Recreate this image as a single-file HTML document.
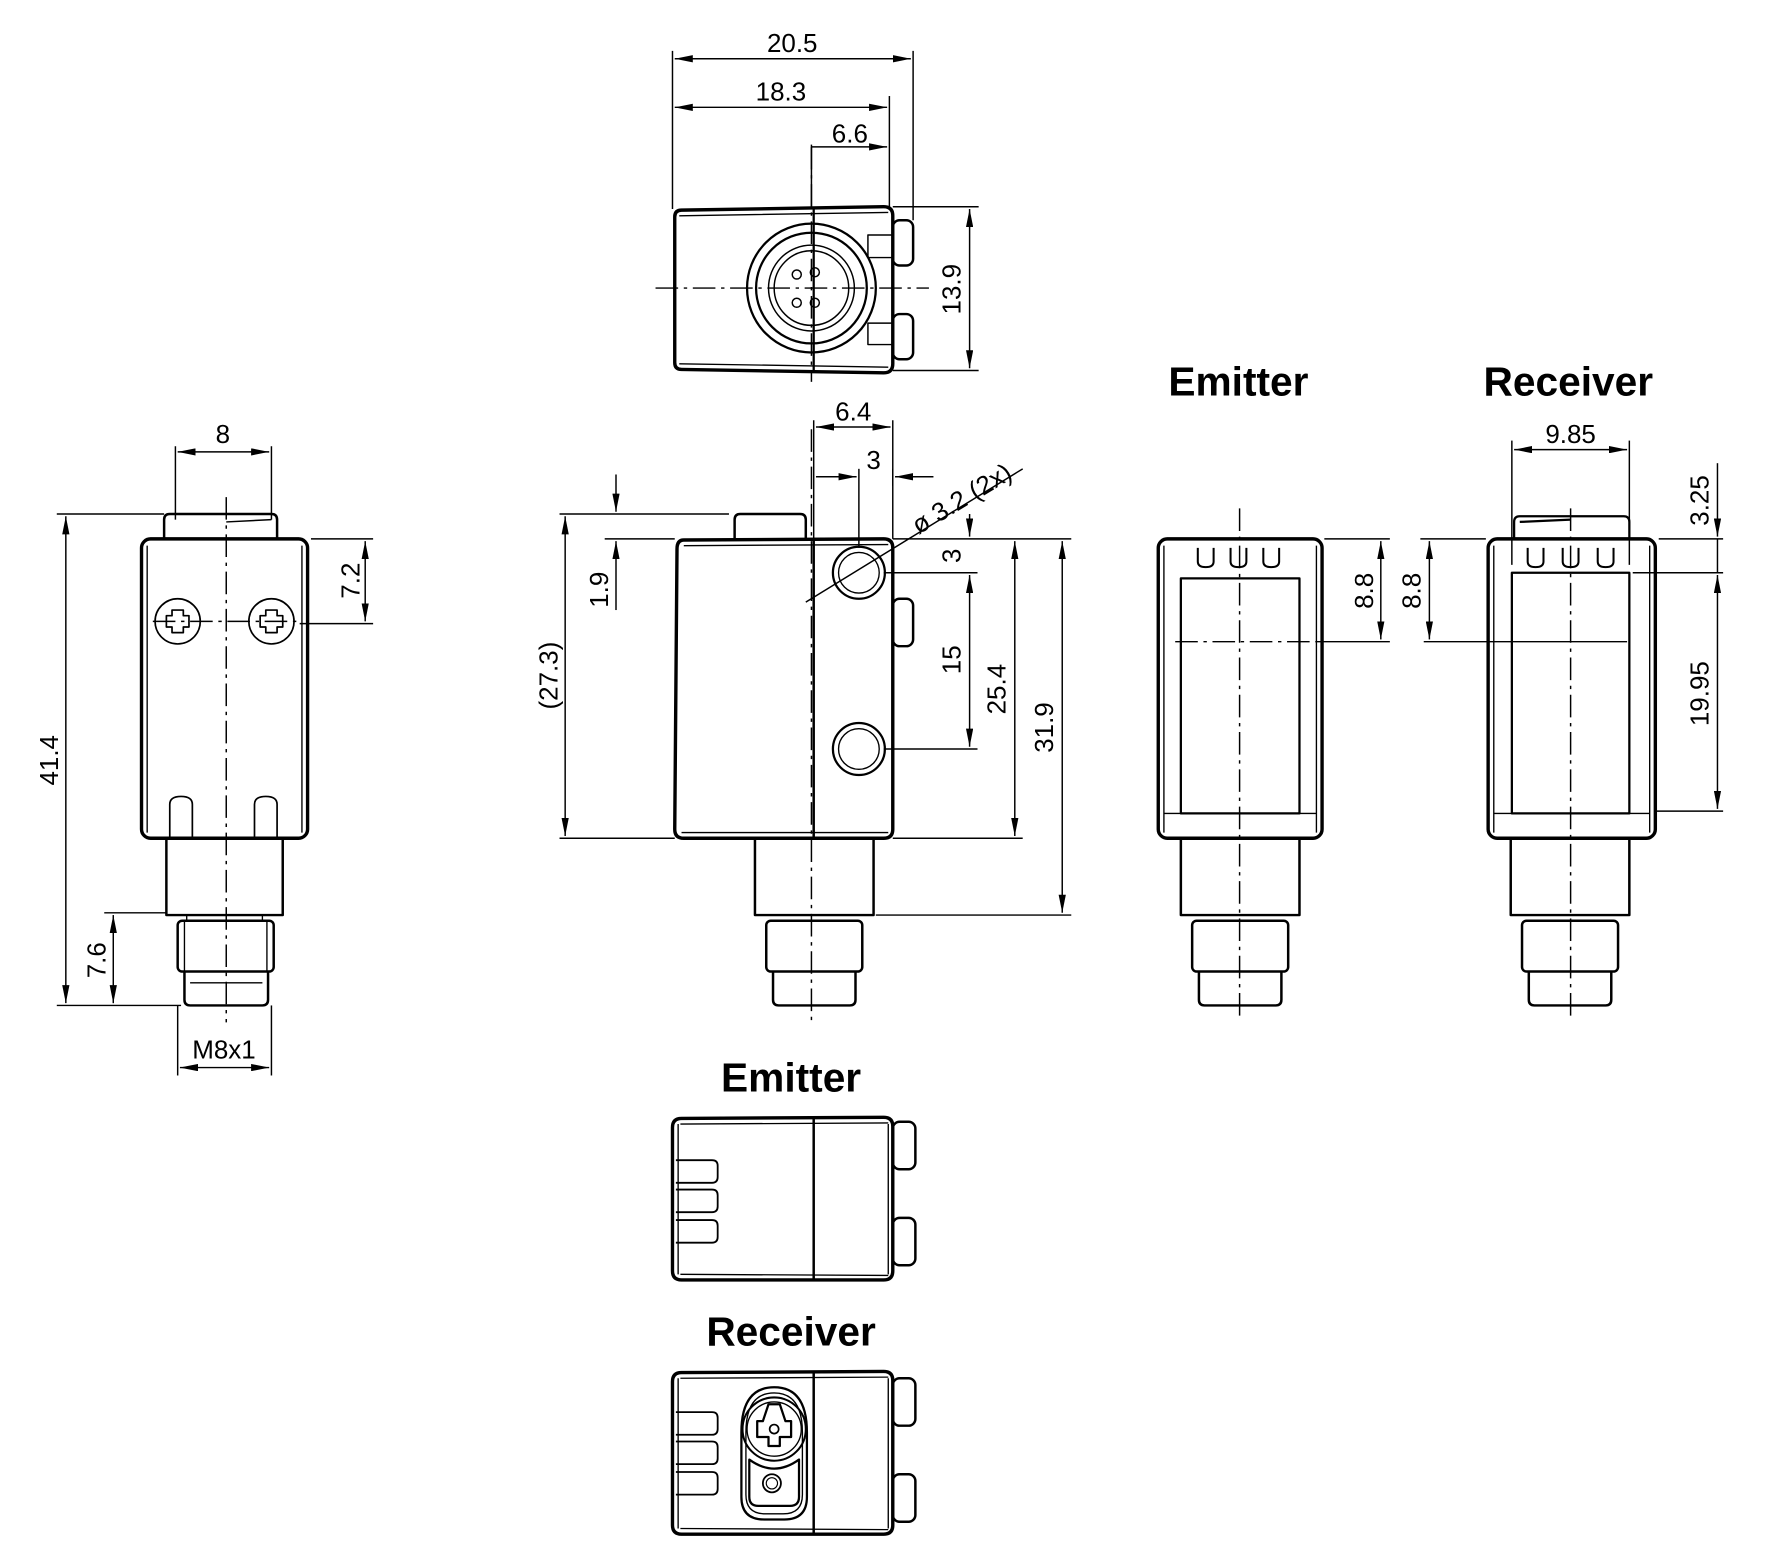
<!DOCTYPE html>
<html><head><meta charset="utf-8"><style>
html,body{margin:0;padding:0;background:#fff;}
svg{display:block}
text{font-family:"Liberation Sans",Arial,sans-serif;fill:#000}
</style></head><body>
<svg width="1772" height="1559" viewBox="0 0 1568 1380" xmlns="http://www.w3.org/2000/svg">
<defs>
<marker id="a" viewBox="0 0 20 8" refX="20" refY="4" markerWidth="16" markerHeight="6.4" markerUnits="userSpaceOnUse" orient="auto-start-reverse"><path d="M0,0 L20,4 L0,8 z" fill="#000"/></marker>
</defs>
<g fill="none" stroke="#000" stroke-linejoin="round">

<!-- ===== TOP VIEW ===== -->
<g stroke-width="1.3">
<line x1="595" y1="45" x2="595" y2="185"/><line x1="808" y1="45" x2="808" y2="195"/><line x1="787" y1="85" x2="787" y2="185"/>
<line x1="718" y1="128" x2="718" y2="185"/>
<line x1="597" y1="52" x2="806" y2="52" marker-start="url(#a)" marker-end="url(#a)"/>
<line x1="597" y1="95" x2="785" y2="95" marker-start="url(#a)" marker-end="url(#a)"/>
<line x1="718" y1="130" x2="785" y2="130" marker-end="url(#a)"/>
<line x1="790" y1="183" x2="866" y2="183"/><line x1="790" y1="328" x2="866" y2="328"/>
<line x1="858" y1="185" x2="858" y2="326" marker-start="url(#a)" marker-end="url(#a)"/>
<line x1="718" y1="130" x2="718" y2="338" stroke-dasharray="20,5,3,5"/>
<line x1="580" y1="255" x2="822" y2="255" stroke-dasharray="20,5,3,5"/>
</g>
<path d="M603,186 L782,183 Q790,183 790,191 L790,322 Q790,330 782,330 L603,327 Q597,327 597,321 L597,192 Q597,186 603,186 Z" stroke-width="3"/>
<path d="M601,191 L786,188 M601,322 L786,325" stroke-width="1.2"/>
<line x1="720" y1="185" x2="720" y2="328" stroke-width="2"/>
<g stroke-width="2"><circle cx="718" cy="255" r="57"/><circle cx="718" cy="255" r="49"/></g>
<g stroke-width="1.3"><circle cx="718" cy="255" r="38"/><circle cx="718" cy="255" r="33"/>
<circle cx="705" cy="243" r="4"/><circle cx="721" cy="241" r="4"/><circle cx="705" cy="268" r="4"/><circle cx="721" cy="268" r="4"/></g>
<g stroke-width="2.2">
<path d="M768,208 H790 V228 H768 Z M768,286 H790 V305 H768 Z" stroke-width="1.3"/>
<rect x="790" y="195" width="18" height="40" rx="6"/><rect x="790" y="278" width="18" height="40" rx="6"/>
</g>

<!-- ===== LEFT SIDE VIEW ===== -->
<g stroke-width="1.3">
<line x1="155" y1="395" x2="155" y2="460"/><line x1="240" y1="395" x2="240" y2="460"/>
<line x1="157" y1="400" x2="238" y2="400" marker-start="url(#a)" marker-end="url(#a)"/>
<line x1="50" y1="455" x2="145" y2="455"/><line x1="50" y1="890" x2="160" y2="890"/>
<line x1="58" y1="457" x2="58" y2="888" marker-start="url(#a)" marker-end="url(#a)"/>
<line x1="92" y1="808" x2="147" y2="808"/>
<line x1="100" y1="810" x2="100" y2="888" marker-start="url(#a)" marker-end="url(#a)"/>
<line x1="275" y1="477" x2="330" y2="477"/><line x1="265" y1="552" x2="330" y2="552"/>
<line x1="323" y1="479" x2="323" y2="550" marker-start="url(#a)" marker-end="url(#a)"/>
<line x1="157" y1="890" x2="157" y2="952"/><line x1="240" y1="890" x2="240" y2="952"/>
<line x1="159" y1="945" x2="238" y2="945" marker-start="url(#a)" marker-end="url(#a)"/>
<line x1="200" y1="440" x2="200" y2="905" stroke-dasharray="20,5,3,5"/>
<line x1="135" y1="550" x2="265" y2="550" stroke-dasharray="20,5,3,5"/>
</g>
<rect x="125" y="477" width="147" height="265" rx="8" stroke-width="3"/>
<path d="M130,483 V737 M267,483 V737" stroke-width="1.2"/>
<path d="M145,477 V460 Q145,455 150,455 H240 Q245,455 245,460 V477" stroke-width="2.2"/>
<path d="M200,462 L240,460" stroke-width="1.3"/>
<g stroke-width="1.5"><circle cx="157" cy="550" r="20"/><circle cx="240" cy="550" r="20"/>
<path d="M152,540 h10 v5 h5 v10 h-5 v5 h-10 v-5 h-5 v-10 h5 z M235,540 h10 v5 h5 v10 h-5 v5 h-10 v-5 h-5 v-10 h5 z"/>
<path d="M150,742 V712 Q150,705 160,705 Q170,705 170,712 V742 M225,742 V712 Q225,705 235,705 Q245,705 245,712 V742"/></g>
<g stroke-width="2.2">
<rect x="147" y="742" width="103" height="68"/>
<rect x="157" y="815" width="85" height="45" rx="4"/>
<path d="M163,860 V885 Q163,890 168,890 H232 Q237,890 237,885 V860"/>
</g>
<path d="M163,815 V860 M236,815 V860 M165,810 V815 M232,810 V815 M168,870 H232" stroke-width="1.2"/>

<!-- ===== CENTER SIDE VIEW ===== -->
<g stroke-width="1.3">
<line x1="720" y1="372" x2="720" y2="477"/><line x1="790" y1="372" x2="790" y2="477"/>
<line x1="722" y1="378" x2="788" y2="378" marker-start="url(#a)" marker-end="url(#a)"/>
<line x1="760" y1="415" x2="760" y2="485"/>
<line x1="722" y1="422" x2="758" y2="422" marker-end="url(#a)"/>
<line x1="826" y1="422" x2="792" y2="422" marker-end="url(#a)"/>
<line x1="790" y1="415" x2="790" y2="430"/>
<line x1="713" y1="533" x2="905" y2="415"/>
<line x1="495" y1="455" x2="645" y2="455"/><line x1="495" y1="742" x2="597" y2="742"/>
<line x1="535" y1="477" x2="597" y2="477"/>
<line x1="500" y1="457" x2="500" y2="740" marker-start="url(#a)" marker-end="url(#a)"/>
<line x1="545" y1="420" x2="545" y2="453" marker-end="url(#a)"/>
<line x1="545" y1="540" x2="545" y2="479" marker-end="url(#a)"/>
<line x1="790" y1="477" x2="948" y2="477"/><line x1="782" y1="507" x2="865" y2="507"/>
<line x1="782" y1="663" x2="865" y2="663"/><line x1="790" y1="742" x2="905" y2="742"/>
<line x1="775" y1="810" x2="948" y2="810"/>
<line x1="858" y1="455" x2="858" y2="475" marker-end="url(#a)"/>
<line x1="858" y1="509" x2="858" y2="661" marker-start="url(#a)" marker-end="url(#a)"/>
<line x1="898" y1="479" x2="898" y2="740" marker-start="url(#a)" marker-end="url(#a)"/>
<line x1="940" y1="479" x2="940" y2="808" marker-start="url(#a)" marker-end="url(#a)"/>
<line x1="718" y1="380" x2="718" y2="905" stroke-dasharray="20,5,3,5"/>
</g>
<path d="M605,478 L782,477 Q790,477 790,485 L790,734 Q790,742 782,742 L605,742 Q597,742 597,734 L599,486 Q599,478 605,478 Z" stroke-width="3"/>
<path d="M605,483 L786,482 M603,737 L786,737" stroke-width="1.2"/>
<line x1="720" y1="477" x2="720" y2="742" stroke-width="2.2"/>
<path d="M650,477 V460 Q650,455 655,455 H708 Q713,455 713,460 V477" stroke-width="2.2"/>
<g stroke-width="2"><circle cx="760" cy="507" r="23"/><circle cx="760" cy="663" r="23"/></g>
<g stroke-width="1.2"><circle cx="760" cy="507" r="18"/><circle cx="760" cy="663" r="18"/></g>
<rect x="790" y="530" width="18" height="42" rx="6" stroke-width="2.2"/>
<g stroke-width="2.2">
<rect x="668" y="742" width="105" height="68"/>
<rect x="678" y="815" width="85" height="45" rx="4"/>
<path d="M684,860 V885 Q684,890 689,890 H752 Q757,890 757,885 V860"/>
</g>

<!-- ===== EMITTER FRONT ===== -->
<rect x="1025" y="477" width="145" height="265" rx="8" stroke-width="3"/>
<path d="M1030,483 V737 M1165,483 V737 M1030,720 H1165" stroke-width="1.2"/>
<rect x="1045" y="512" width="105" height="208" stroke-width="2"/>
<path d="M1060,485 V497 Q1060,502 1067,502 Q1074,502 1074,497 V485 M1089,485 V497 Q1089,502 1096,502 Q1103,502 1103,497 V485 M1118,485 V497 Q1118,502 1125,502 Q1132,502 1132,497 V485" stroke-width="1.8"/>
<g stroke-width="2.2">
<rect x="1045" y="742" width="105" height="68"/>
<rect x="1055" y="815" width="85" height="45" rx="4"/>
<path d="M1061,860 V885 Q1061,890 1066,890 H1129 Q1134,890 1134,885 V860"/>
</g>
<g stroke-width="1.3">
<line x1="1097" y1="450" x2="1097" y2="900" stroke-dasharray="20,5,3,5"/>
<line x1="1040" y1="568" x2="1165" y2="568" stroke-dasharray="20,5,3,5"/>
<line x1="1172" y1="477" x2="1230" y2="477"/><line x1="1165" y1="568" x2="1230" y2="568"/>
<line x1="1222" y1="479" x2="1222" y2="566" marker-start="url(#a)" marker-end="url(#a)"/>
<line x1="1257" y1="477" x2="1315" y2="477"/><line x1="1260" y1="568" x2="1440" y2="568"/>
<line x1="1265" y1="479" x2="1265" y2="566" marker-start="url(#a)" marker-end="url(#a)"/>
</g>

<!-- ===== RECEIVER FRONT ===== -->
<rect x="1317" y="477" width="148" height="265" rx="8" stroke-width="3"/>
<path d="M1322,483 V737 M1460,483 V737 M1322,720 H1460" stroke-width="1.2"/>
<rect x="1338" y="507" width="104" height="213" stroke-width="2"/>
<path d="M1340,477 V462 Q1340,457 1345,457 H1437 Q1442,457 1442,462 V477 M1345,462 L1390,460" stroke-width="2"/>
<path d="M1352,485 V497 Q1352,502 1359,502 Q1366,502 1366,497 V485 M1383,485 V497 Q1383,502 1390,502 Q1397,502 1397,497 V485 M1414,485 V497 Q1414,502 1421,502 Q1428,502 1428,497 V485" stroke-width="1.8"/>
<g stroke-width="2.2">
<rect x="1337" y="742" width="105" height="68"/>
<rect x="1347" y="815" width="85" height="45" rx="4"/>
<path d="M1353,860 V885 Q1353,890 1358,890 H1421 Q1426,890 1426,885 V860"/>
</g>
<g stroke-width="1.3">
<line x1="1390" y1="450" x2="1390" y2="900" stroke-dasharray="20,5,3,5"/>
<line x1="1338" y1="390" x2="1338" y2="500"/><line x1="1442" y1="390" x2="1442" y2="500"/>
<line x1="1340" y1="398" x2="1440" y2="398" marker-start="url(#a)" marker-end="url(#a)"/>
<line x1="1468" y1="477" x2="1525" y2="477"/><line x1="1445" y1="507" x2="1525" y2="507"/><line x1="1465" y1="718" x2="1525" y2="718"/>
<line x1="1520" y1="410" x2="1520" y2="475" marker-end="url(#a)"/>
<line x1="1520" y1="477" x2="1520" y2="507"/>
<line x1="1520" y1="509" x2="1520" y2="716" marker-start="url(#a)" marker-end="url(#a)"/>
</g>

<!-- ===== BOTTOM EMITTER ===== -->
<path d="M603,990 L782,989 Q790,989 790,997 L790,1125 Q790,1133 782,1133 L603,1133 Q595,1133 595,1125 L595,998 Q595,990 603,990 Z" stroke-width="3"/>
<path d="M600,995 V1128 M786,995 V1128 M602,995 L786,994 M602,1128 L786,1129" stroke-width="1.2"/>
<line x1="720" y1="990" x2="720" y2="1133" stroke-width="2.2"/>
<path d="M598,1027 H630 Q635,1027 635,1032 V1042 Q635,1047 630,1047 H598 M598,1053 H630 Q635,1053 635,1058 V1068 Q635,1073 630,1073 H598 M598,1080 H630 Q635,1080 635,1085 V1095 Q635,1100 630,1100 H598" stroke-width="1.6"/>
<g stroke-width="2.2"><rect x="790" y="993" width="20" height="42" rx="6"/><rect x="790" y="1078" width="20" height="42" rx="6"/></g>

<!-- ===== BOTTOM RECEIVER ===== -->
<path d="M603,1215 L782,1214 Q790,1214 790,1222 L790,1350 Q790,1358 782,1358 L603,1358 Q595,1358 595,1350 L595,1223 Q595,1215 603,1215 Z" stroke-width="3"/>
<path d="M600,1220 V1353 M786,1220 V1353 M602,1220 L786,1219 M602,1353 L786,1354" stroke-width="1.2"/>
<line x1="720" y1="1215" x2="720" y2="1358" stroke-width="2.2"/>
<path d="M598,1250 H630 Q635,1250 635,1255 V1265 Q635,1270 630,1270 H598 M598,1276 H630 Q635,1276 635,1281 V1291 Q635,1296 630,1296 H598 M598,1303 H630 Q635,1303 635,1308 V1318 Q635,1323 630,1323 H598" stroke-width="1.6"/>
<g stroke-width="2.2"><rect x="790" y="1220" width="20" height="42" rx="6"/><rect x="790" y="1305" width="20" height="42" rx="6"/></g>
<path d="M656,1268 Q656,1228 685,1228 Q714,1228 714,1268 V1325 Q714,1345 694,1345 H676 Q656,1345 656,1325 Z" stroke-width="2"/>
<path d="M660,1268 Q660,1233 685,1233 Q710,1233 710,1268 V1323 Q710,1340 693,1340 H677 Q660,1340 660,1323 Z" stroke-width="1.2"/>
<circle cx="685" cy="1265" r="28" stroke-width="1.8"/>
<circle cx="685" cy="1265" r="24" stroke-width="1.2"/>
<path d="M663,1292 Q685,1308 707,1292 V1325 Q707,1333 699,1333 H671 Q663,1333 663,1325 Z" stroke-width="2"/>
<circle cx="683" cy="1313" r="8" stroke-width="1.6"/><circle cx="683" cy="1313" r="5" stroke-width="1"/>
<path d="M680,1243 L690,1243 L695,1258 L700,1258 V1272 H690 V1280 H680 V1272 H670 V1258 H675 Z" stroke-width="2"/>
<circle cx="685" cy="1265" r="4" stroke-width="1.5"/>
</g>

<!-- ===== TEXT ===== -->
<g font-size="23" text-anchor="middle">
<text x="701" y="46">20.5</text>
<text x="691" y="89">18.3</text>
<text x="752" y="126">6.6</text>
<text transform="translate(850,256) rotate(-90)">13.9</text>
<text x="197" y="392">8</text>
<text transform="translate(51,673) rotate(-90)">41.4</text>
<text transform="translate(93,850) rotate(-90)">7.6</text>
<text transform="translate(318,514) rotate(-90)">7.2</text>
<text x="198" y="937">M8x1</text>
<text x="755" y="372">6.4</text>
<text x="773" y="415">3</text>
<text transform="translate(855,448) rotate(-31)">ø 3.2 (2x)</text>
<text transform="translate(538,522) rotate(-90)">1.9</text>
<text transform="translate(493,598) rotate(-90)">(27.3)</text>
<text transform="translate(850,492) rotate(-90)">3</text>
<text transform="translate(850,584) rotate(-90)">15</text>
<text transform="translate(890,610) rotate(-90)">25.4</text>
<text transform="translate(932,644) rotate(-90)">31.9</text>
<text x="1390" y="392">9.85</text>
<text transform="translate(1215,523) rotate(-90)">8.8</text>
<text transform="translate(1257,523) rotate(-90)">8.8</text>
<text transform="translate(1512,443) rotate(-90)">3.25</text>
<text transform="translate(1512,614) rotate(-90)">19.95</text>
</g>
<g font-size="36" font-weight="bold" text-anchor="middle">
<text x="1096" y="350">Emitter</text>
<text x="1388" y="350">Receiver</text>
<text x="700" y="966">Emitter</text>
<text x="700" y="1191">Receiver</text>
</g>
</svg>
</body></html>
